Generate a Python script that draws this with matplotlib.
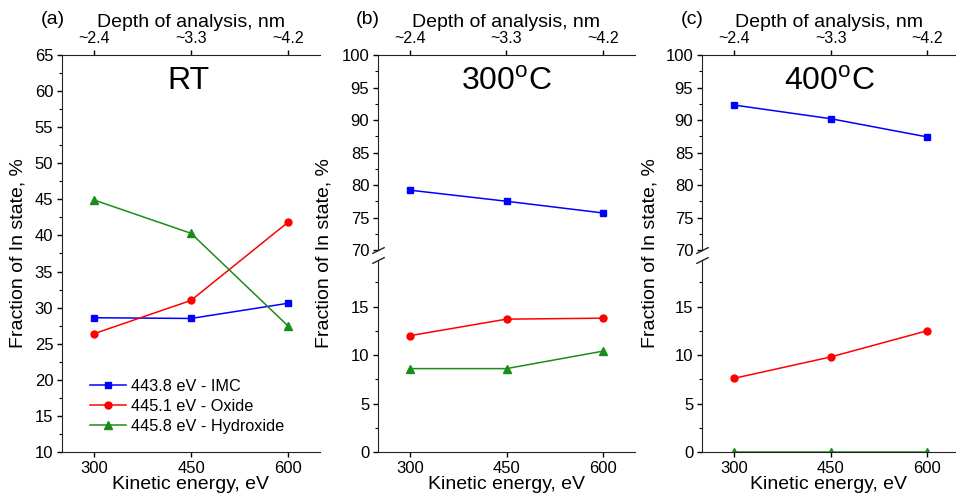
import matplotlib
matplotlib.use("Agg")
import matplotlib.pyplot as plt
from matplotlib.ticker import MultipleLocator

plt.rcParams['font.family'] = ['Liberation Sans', 'DejaVu Sans']
plt.rcParams['mathtext.fontset'] = 'custom'
plt.rcParams['mathtext.rm'] = 'Liberation Sans'

kinetic = [300, 450, 600]
depth_labels = ['~2.4', '~3.3', '~4.2']
series_names = ['443.8 eV - IMC', '445.1 eV - Oxide', '445.8 eV - Hydroxide']

rt_imc = [28.6, 28.5, 30.6]
rt_oxide = [26.4, 31.0, 41.8]
rt_hydroxide = [44.9, 40.3, 27.5]

c300_imc = [79.2, 77.5, 75.7]
c300_oxide = [12.0, 13.7, 13.8]
c300_hydroxide = [8.6, 8.6, 10.4]

c400_imc = [92.3, 90.2, 87.4]
c400_oxide = [7.6, 9.8, 12.5]
c400_hydroxide = [0, 0, 0]

styles = [dict(color='#0000ff', marker='s', ms=4.5),
          dict(color='#ff0000', marker='o', ms=5),
          dict(color='#1a8c1a', marker='^', ms=5.5)]

W, H = 956, 496
fig = plt.figure(figsize=(W / 100, H / 100), dpi=100)


def box(l, t, r, b):
    return [l / W, 1 - b / H, (r - l) / W, (b - t) / H]


def style_ax(ax, major, minor):
    ax.yaxis.set_major_locator(MultipleLocator(major))
    ax.yaxis.set_minor_locator(MultipleLocator(minor))
    ax.spines['right'].set_visible(False)
    ax.tick_params(axis='both', which='major', direction='out', length=3.8, width=1,
                   labelsize=12, right=False, pad=2.5)
    ax.tick_params(axis='y', which='minor', direction='out', length=2.2, width=0.8, right=False)
    ax.tick_params(axis='x', which='minor', bottom=False, top=False)
    for s in ax.spines.values():
        s.set_color('#222222')


def add_top(ax):
    sec = ax.secondary_xaxis('top')
    sec.set_xticks(kinetic, labels=depth_labels)
    sec.tick_params(direction='out', length=3.8, width=1, labelsize=11.5, pad=2.5)
    sec.spines['top'].set_color('#222222')
    sec.set_xlabel('Depth of analysis, nm', fontsize=14, labelpad=3)
    ax.spines['top'].set_visible(False)
    ax.tick_params(top=False)


def add_bottom(ax):
    ax.set_xticks(kinetic)
    ax.set_xlabel('Kinetic energy, eV', fontsize=14, labelpad=0)


def breaks(ax_top, ax_bot):
    d = .5
    kw = dict(marker=[(-1, -d), (1, d)], markersize=9, linestyle='none',
              color='#222222', mec='#222222', mew=1, clip_on=False)
    ax_top.plot([0], [0], transform=ax_top.transAxes, **kw)
    ax_bot.plot([0], [1], transform=ax_bot.transAxes, **kw)


# (a) RT
ax_a = fig.add_axes(box(62, 55, 320, 452))
for vals, name, st in zip([rt_imc, rt_oxide, rt_hydroxide], series_names, styles):
    ax_a.plot(kinetic, vals, lw=1.1, label=name, **st)
ax_a.set_xlim(250, 650)
ax_a.set_ylim(10, 65)
style_ax(ax_a, 5, 2.5)
add_bottom(ax_a)
add_top(ax_a)
ax_a.text(0.49, 0.935, 'RT', transform=ax_a.transAxes, ha='center', va='center', fontsize=23)
ax_a.legend(loc='lower left', bbox_to_anchor=(0.085, 0.03), frameon=False, fontsize=11.7,
            handlelength=2.2, handletextpad=0.3, labelspacing=0.3, borderaxespad=0)

# (b) 300 C and (c) 400 C, broken y axis
panels = [(378, 635, (250, 650), c300_imc, c300_oxide, c300_hydroxide, r'300$^{\mathregular{o}}$C'),
          (702, 956, (250, 645), c400_imc, c400_oxide, c400_hydroxide, r'400$^{\mathregular{o}}$C')]
for left, right, xl, imc, oxide, hydroxide, title in panels:
    ax_u = fig.add_axes(box(left, 55, right, 250))
    ax_l = fig.add_axes(box(left, 260, right, 452))
    for ax in (ax_u, ax_l):
        for vals, st in zip([imc, oxide, hydroxide], styles):
            ax.plot(kinetic, vals, lw=1.1, **st)
        ax.set_xlim(*xl)
    ax_u.set_ylim(70, 100)
    ax_l.set_ylim(0, 19.8)
    style_ax(ax_u, 5, 2.5)
    style_ax(ax_l, 5, 2.5)
    ax_u.spines['bottom'].set_visible(False)
    ax_u.tick_params(axis='x', bottom=False, labelbottom=False)
    ax_l.spines['top'].set_visible(False)
    ax_l.tick_params(axis='x', top=False)
    add_top(ax_u)
    add_bottom(ax_l)
    breaks(ax_u, ax_l)
    ax_u.text(0.5, 0.86, title, transform=ax_u.transAxes, ha='center', va='center', fontsize=23)

# y labels and panel letters
for x in (18, 324, 650):
    fig.text(x / W, 1 - 253 / H, 'Fraction of In state, %', rotation=90,
             ha='center', va='center', fontsize=14)
for x, letter in ((53, '(a)'), (368, '(b)'), (692, '(c)')):
    fig.text(x / W, 1 - 19 / H, letter, ha='center', va='center', fontsize=14)

fig.savefig('out.png', dpi=100)
